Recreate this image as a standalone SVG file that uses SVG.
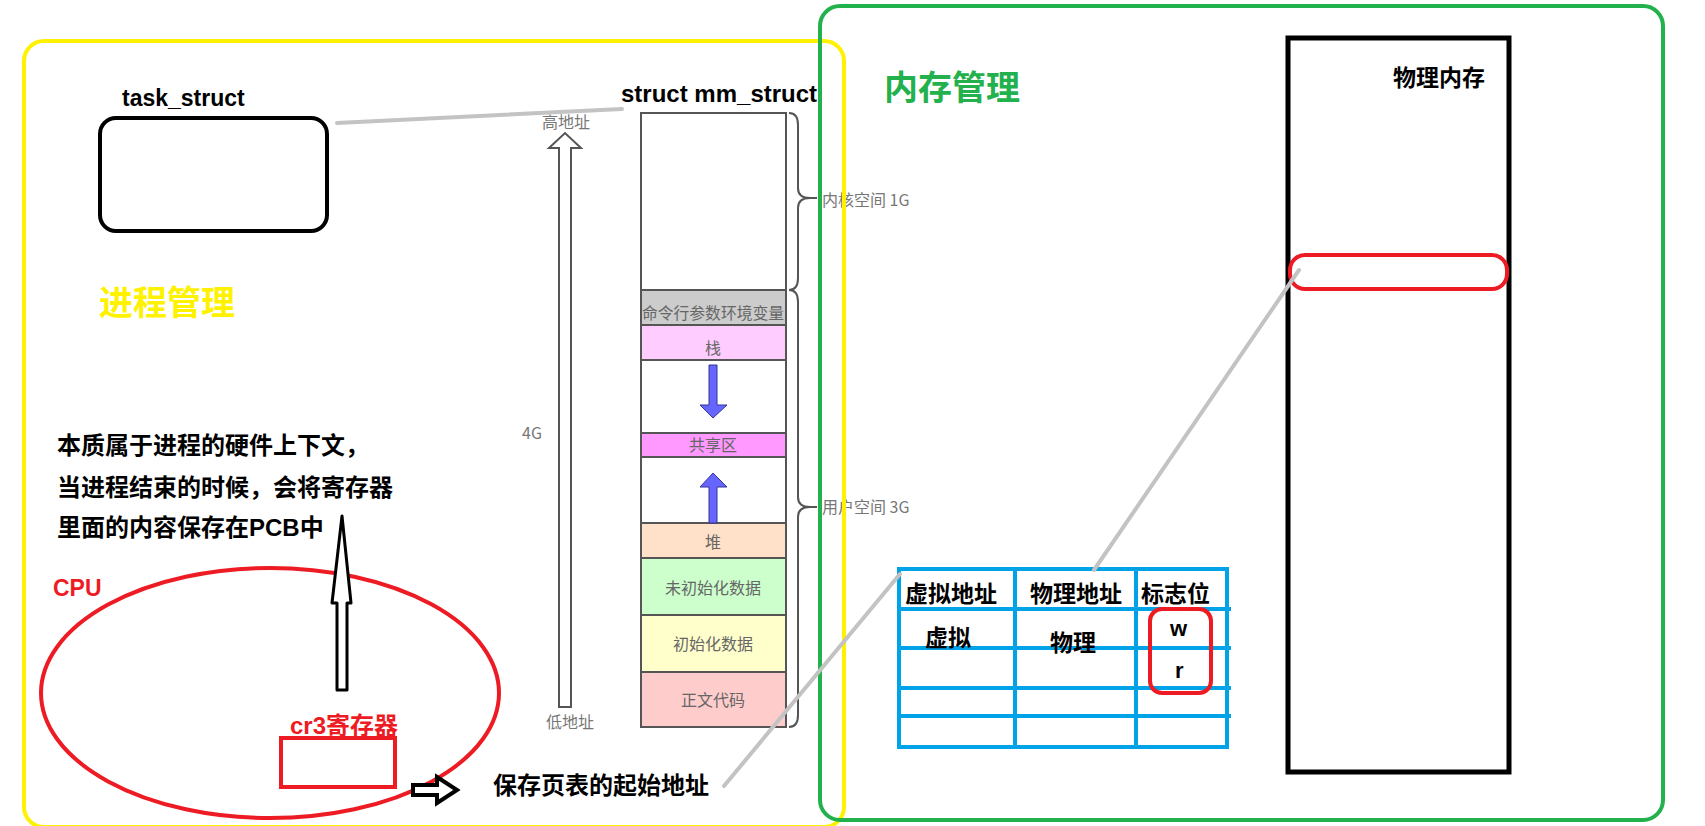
<svg xmlns="http://www.w3.org/2000/svg" width="1705" height="826" viewBox="0 0 1705 826">
<style>
.b{font-family:"Liberation Sans","Noto Sans CJK SC",sans-serif;font-weight:bold;fill:#000}
.m{font-family:"Noto Sans CJK SC","Liberation Sans",sans-serif;font-size:16px;fill:#666;text-anchor:middle}
.g{font-family:"Noto Sans CJK SC","Liberation Sans",sans-serif;font-size:16px;fill:#777}
.cell{stroke:#555;stroke-width:2}
.red{fill:none;stroke:#ED1C24;stroke-width:4}
.blue{stroke:#00A2E8;stroke-width:4;fill:none}
.gl{stroke:#C3C3C3;stroke-width:4;stroke-linecap:round}
.ba{fill:#6666FF;stroke:#333399;stroke-width:1}
</style>
<rect width="1705" height="826" fill="#fff"/>
<g id="mm_layout">
<rect x="641" y="113" width="145" height="177" fill="#fff" class="cell"/>
<rect x="641" y="290" width="145" height="35" fill="#CCCCCC" class="cell"/>
<rect x="641" y="325" width="145" height="35" fill="#FFCCFF" class="cell"/>
<rect x="641" y="360" width="145" height="73" fill="#fff" class="cell"/>
<rect x="641" y="433" width="145" height="24" fill="#FF99FF" class="cell"/>
<rect x="641" y="457" width="145" height="66" fill="#fff" class="cell"/>
<rect x="641" y="523" width="145" height="35" fill="#FFE0C8" class="cell"/>
<rect x="641" y="558" width="145" height="57" fill="#CCFFCC" class="cell"/>
<rect x="641" y="615" width="145" height="57" fill="#FFFFCC" class="cell"/>
<rect x="641" y="672" width="145" height="55" fill="#FFCCCC" class="cell"/>
<text class="m" x="713" y="319" textLength="142" lengthAdjust="spacingAndGlyphs">命令行参数环境变量</text>
<text class="m" x="713" y="354">栈</text>
<text class="m" x="713" y="451">共享区</text>
<text class="m" x="713" y="548">堆</text>
<text class="m" x="713" y="594">未初始化数据</text>
<text class="m" x="713" y="650">初始化数据</text>
<text class="m" x="713" y="706">正文代码</text>
<path class="ba" d="M709,365 L717,365 L717,405 L727,405 L713,418 L700,405 L709,405 Z"/>
<path class="ba" d="M713,473 L727,487 L717,487 L717,523 L709,523 L709,487 L700,487 Z"/>
<path d="M559,707 L571,707 L571,148 L581,148 L565,133 L549,148 L559,148 Z" fill="#fff" stroke="#555" stroke-width="2"/>
<text class="m" x="566" y="128" style="fill:#777">高地址</text>
<text class="g" x="522" y="439">4G</text>
<text class="m" x="570" y="728" style="fill:#777">低地址</text>
<path d="M789,113 Q798,113 798,125 L798,188 Q798,198 810,198 L817,198 M810,198 Q798,198 798,208 L798,278 Q798,290 789,290" fill="none" stroke="#555" stroke-width="2"/>
<path d="M789,290 Q798,290 798,302 L798,497 Q798,507 810,507 L817,507 M810,507 Q798,507 798,517 L798,715 Q798,727 789,727" fill="none" stroke="#555" stroke-width="2"/>
<text class="g" x="822" y="206">内核空间 1G</text>
<text class="g" x="822" y="513">用户空间 3G</text>
</g>
<g id="process_mgmt">
<rect x="24" y="41" width="820" height="786" rx="20" fill="none" stroke="#FFF200" stroke-width="4"/>
<text x="99" y="315" style="font-family:'Liberation Sans','Noto Sans CJK SC',sans-serif;font-weight:bold;font-size:34px;fill:#FFF200">进程管理</text>
</g>
<g id="memory_mgmt">
<rect x="820" y="6" width="843" height="814" rx="20" fill="none" stroke="#22B14C" stroke-width="4"/>
<text x="884" y="100" style="font-family:'Liberation Sans','Noto Sans CJK SC',sans-serif;font-weight:bold;font-size:34px;fill:#22B14C">内存管理</text>
</g>
<g id="task_struct">
<rect x="100" y="118" width="227" height="113" rx="16" fill="none" stroke="#000" stroke-width="4"/>
<text class="b" x="122" y="106" style="font-size:23px">task_struct</text>
</g>
<g id="mm_struct_label">
<text class="b" x="621" y="102" style="font-size:24px">struct mm_struct</text>
</g>
<g id="context_note">
<text class="b" x="57" y="454" style="font-size:24px">本质属于进程的硬件上下文，</text>
<text class="b" x="57" y="496" style="font-size:24px">当进程结束的时候，会将寄存器</text>
<text class="b" x="57" y="536" style="font-size:24px">里面的内容保存在PCB中</text>
</g>
<g id="cpu">
<ellipse cx="270" cy="693" rx="229" ry="125" class="red"/>
<text x="53" y="596" style="font-family:'Liberation Sans','Noto Sans CJK SC',sans-serif;font-weight:bold;font-size:23px;fill:#ED1C24">CPU</text>
</g>
<g id="cr3">
<text x="290" y="734" style="font-family:'Liberation Sans','Noto Sans CJK SC',sans-serif;font-weight:bold;font-size:24px;fill:#ED1C24">cr3寄存器</text>
<rect x="281" y="738" width="114" height="49" class="red"/>
</g>
<g id="page_table_note">
<text class="b" x="493" y="794" style="font-size:24px">保存页表的起始地址</text>
</g>
<g id="page_table">
<rect x="899" y="569" width="328" height="178" class="blue"/>
<line x1="1015" y1="569" x2="1015" y2="747" class="blue"/>
<line x1="1136" y1="569" x2="1136" y2="747" class="blue"/>
<line x1="899" y1="609" x2="1231" y2="609" class="blue"/>
<line x1="899" y1="648" x2="1231" y2="648" class="blue"/>
<line x1="899" y1="688" x2="1231" y2="688" class="blue"/>
<line x1="899" y1="716" x2="1231" y2="716" class="blue"/>
<text class="b" x="905" y="602" style="font-size:23px">虚拟地址</text>
<text class="b" x="1030" y="602" style="font-size:23px">物理地址</text>
<text class="b" x="1141" y="602" style="font-size:23px">标志位</text>
<text class="b" x="925" y="646" style="font-size:23px">虚拟</text>
<text class="b" x="1050" y="651" style="font-size:23px">物理</text>
<text class="b" x="1170" y="636" style="font-size:22px">w</text>
<text class="b" x="1175" y="678" style="font-size:22px">r</text>
<rect x="1150" y="609" width="61" height="84" rx="12" class="red"/>
</g>
<g id="physical_memory">
<rect x="1288" y="38" width="221" height="734" fill="none" stroke="#000" stroke-width="5"/>
<text class="b" x="1393" y="86" style="font-size:23px">物理内存</text>
<rect x="1290" y="255" width="217" height="34" rx="15" class="red"/>
</g>
<g id="connectors">
<line x1="337" y1="123" x2="622" y2="109" class="gl"/>
<line x1="724" y1="786" x2="900" y2="574" class="gl"/>
<line x1="1094" y1="570" x2="1299" y2="270" class="gl"/>
<path d="M337,690 L347,690 L347,603 L351,603 L342,516 L332,603 L337,603 Z" fill="#fff" stroke="#000" stroke-width="3" stroke-linejoin="round"/>
<path d="M413,785 L437,785 L437,777 L457,790 L437,803 L437,795 L413,795 Z" fill="#fff" stroke="#000" stroke-width="4"/>
</g>
</svg>
